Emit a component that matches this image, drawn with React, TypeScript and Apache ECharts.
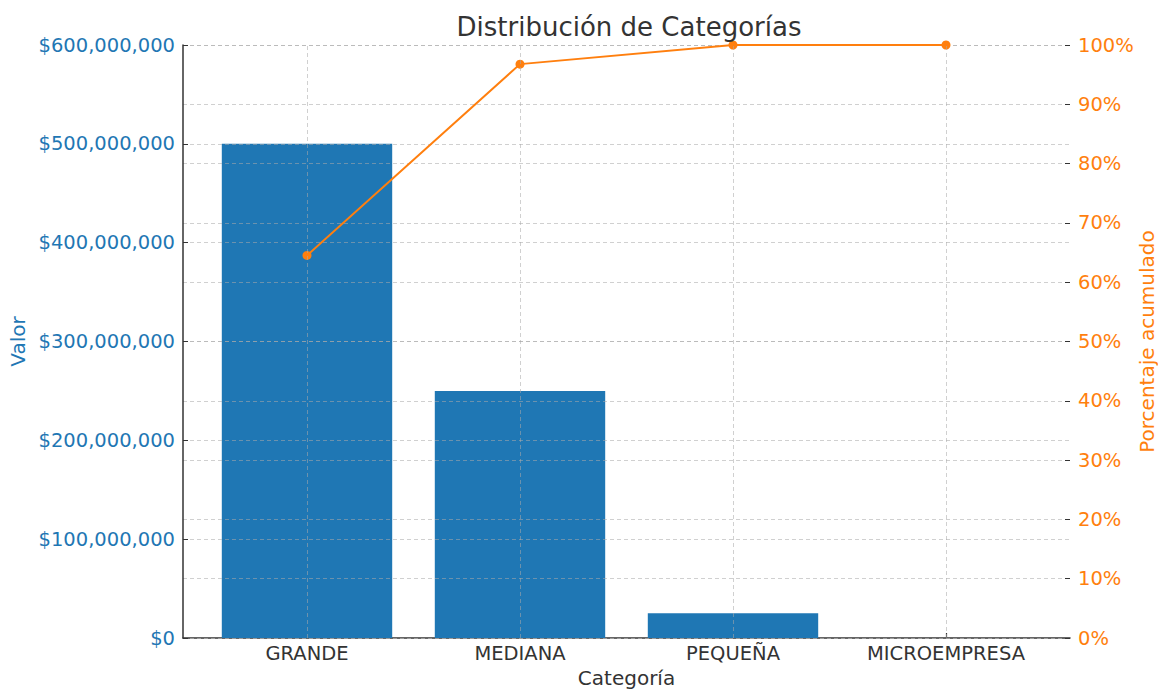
import React, { useEffect, useRef } from "react";
import * as echarts from "echarts";

const categories = ["GRANDE", "MEDIANA", "PEQUEÑA", "MICROEMPRESA"];
const values = [500000000, 250000000, 25000000, 0];
const valueTicks = { min: 0, max: 600000000, interval: 100000000 };
const pctTicks = { min: 0, max: 1, interval: 0.1 };

const total = values.reduce((a, b) => a + b, 0);
const cumulative: number[] = [];
values.reduce((acc, v) => {
  const next = acc + v;
  cumulative.push(next / total);
  return next;
}, 0);

const FONT = "DejaVu Sans";
const BLUE = "#1f77b4";
const ORANGE = "#ff7f0e";
const GRID = "rgba(170,170,170,0.55)";
const DARK = "#333333";

export default function App() {
  const ref = useRef<HTMLDivElement>(null);
  useEffect(() => {
    document.body.style.margin = "0";
    const chart = echarts.init(ref.current!, null, { renderer: "svg" });
    const splitLine = { show: true, lineStyle: { color: GRID, type: [4, 3], width: 1 } };
    chart.setOption({
      animation: false,
      textStyle: { fontFamily: FONT },
      title: {
        text: "Distribución de Categorías",
        left: 624,
        textAlign: "center",
        top: 9,
        textStyle: { fontFamily: FONT, fontSize: 26, fontWeight: "normal", color: DARK },
      },
      grid: [
        { left: 183, top: 45, width: 887, height: 593, outerBoundsMode: "none" },
        { left: 200.5, top: 45, width: 852, height: 593, outerBoundsMode: "none" },
      ],
      xAxis: [
        {
          type: "value",
          gridIndex: 0,
          min: 0,
          max: 1,
          axisLine: { show: true, lineStyle: { color: DARK, width: 1.5 } },
          axisTick: { show: false },
          axisLabel: { show: false },
          splitLine: { show: false },
          name: "Categoría",
          nameLocation: "middle",
          nameGap: 30,
          nameTextStyle: { fontFamily: FONT, fontSize: 20, color: DARK },
        },
        {
          type: "category",
          gridIndex: 1,
          data: categories,
          boundaryGap: true,
          axisLine: { show: false },
          axisTick: { show: true, inside: true, length: 5, alignWithLabel: true, lineStyle: { color: DARK, width: 1.2 } },
          axisLabel: { fontFamily: FONT, fontSize: 19.5, color: DARK, margin: 5 },
          splitLine: { show: false },
        },
      ],
      yAxis: [
        {
          type: "value",
          gridIndex: 0,
          position: "left",
          z: 2,
          ...valueTicks,
          axisLine: { show: true, lineStyle: { color: DARK, width: 1.5 } },
          axisTick: { show: true, inside: true, length: 5, lineStyle: { color: DARK } },
          axisLabel: {
            fontFamily: FONT,
            fontSize: 19.5,
            color: BLUE,
            margin: 8,
            formatter: (v: number) => "$" + v.toLocaleString("en-US"),
          },
          splitLine,
          name: "Valor",
          nameLocation: "middle",
          nameRotate: 90,
          nameGap: 155,
          nameTextStyle: { fontFamily: FONT, fontSize: 20, color: BLUE },
        },
        {
          type: "value",
          gridIndex: 0,
          position: "right",
          z: 2,
          ...pctTicks,
          axisLine: { show: false },
          axisTick: { show: true, inside: true, length: 5, lineStyle: { color: DARK } },
          axisLabel: {
            fontFamily: FONT,
            fontSize: 19.5,
            color: ORANGE,
            margin: 8,
            formatter: (v: number) => Math.round(v * 100) + "%",
          },
          splitLine,
          name: "Porcentaje acumulado",
          nameLocation: "middle",
          nameRotate: 90,
          nameGap: 67,
          nameMoveOverlap: false,
          nameTextStyle: { fontFamily: FONT, fontSize: 20, color: ORANGE },
        },
        { type: "value", gridIndex: 1, ...valueTicks, show: false, splitLine: { show: false } },
        { type: "value", gridIndex: 1, ...pctTicks, show: false, splitLine: { show: false } },
      ],
      series: [
        {
          type: "bar",
          xAxisIndex: 1,
          yAxisIndex: 2,
          z: 1,
          data: values,
          barWidth: "80%",
          itemStyle: { color: BLUE },
        },
        {
          type: "line",
          xAxisIndex: 1,
          yAxisIndex: 3,
          z: 2,
          data: cumulative,
          showSymbol: false,
          lineStyle: { opacity: 0 },
          silent: true,
          markLine: {
            silent: true,
            symbol: "none",
            label: { show: false },
            lineStyle: { color: GRID, type: [4, 3], width: 1 },
            data: categories.map((c) => ({ xAxis: c })),
          },
        },
        {
          type: "line",
          xAxisIndex: 1,
          yAxisIndex: 3,
          z: 3,
          data: cumulative,
          symbol: "circle",
          symbolSize: 9,
          showSymbol: true,
          lineStyle: { color: ORANGE, width: 2 },
          itemStyle: { color: ORANGE },
        },
      ],
    });
    return () => chart.dispose();
  }, []);
  return <div ref={ref} style={{ width: 1158, height: 690 }} />;
}
